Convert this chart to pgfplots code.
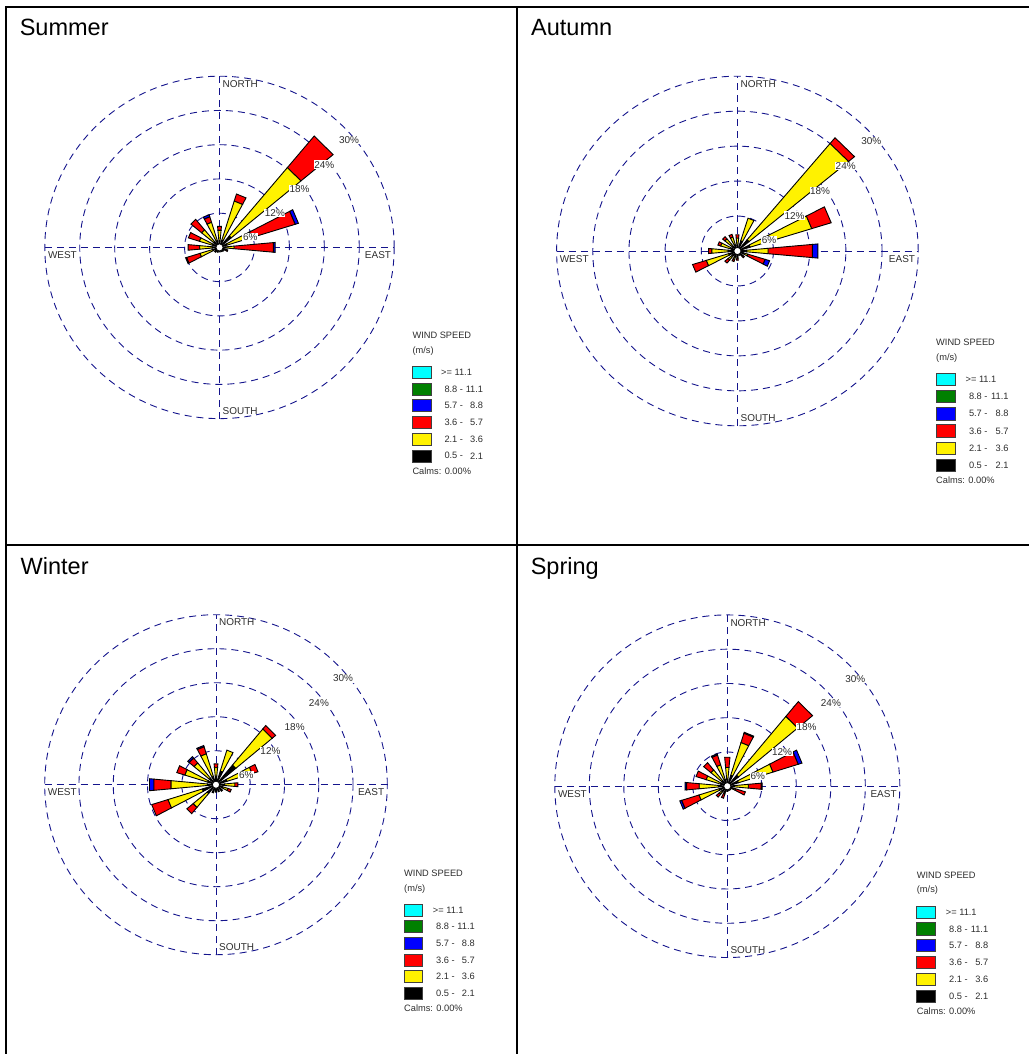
\documentclass[border=0pt]{standalone}
\usepackage{pgfplots}
\pgfplotsset{compat=1.18}
\usepackage{pgfplotstable}
\usepackage{fontspec}
\setmainfont{Liberation Sans}

\definecolor{ringblue}{RGB}{20,20,140}
\definecolor{labgray}{RGB}{45,45,45}
\definecolor{spdcyan}{RGB}{0,255,255}
\definecolor{spdgreen}{RGB}{0,128,0}

% cumulative upper ends (%) of the speed classes for each direction
% k: 0.5-2.1 (black), y: 2.1-3.6 (yellow), r: 3.6-5.7 (red), b: 5.7-8.8 (blue)
\pgfplotstableread{
dir   k    y     r     b
0     1.0  3.0   3.7   3.7
22.5  1.3  8.5   9.8   9.8
45    2.6  18.2  25.4  25.4
67.5  1.3  5.8   13.6  14.2
90    1.1  2.5   9.3   9.6
112.5 0.9  1.1   1.5   1.5
135   0.9  0.9   0.9   0.9
157.5 0.8  0.8   0.8   0.8
180   0.8  0.8   0.8   0.8
202.5 0.9  0.9   0.9   0.9
225   0.9  1.1   1.1   1.1
247.5 1.2  3.5   5.9   6.1
270   1.2  3.4   5.4   5.4
292.5 1.2  3.6   5.6   5.6
315   1.2  4.0   6.4   6.4
337.5 1.2  4.6   5.6   6.0
}\summer

\pgfplotstableread{
dir   k    y     r     b
0     1.0  2.2   2.8   2.8
22.5  1.8  5.9   5.9   5.9
45    2.5  24.0  25.3  25.3
67.5  2.2  12.9  16.3  16.3
90    1.5  5.1   12.5  13.4
112.5 1.0  1.8   4.8   5.6
135   0.9  1.2   1.5   1.5
157.5 0.8  0.8   0.8   0.8
180   0.9  1.2   1.6   1.6
202.5 0.9  1.5   1.9   1.9
225   1.0  2.0   2.7   2.7
247.5 1.5  5.4   7.8   7.8
270   1.5  4.25  4.8   4.8
292.5 1.0  2.9   3.4   3.4
315   1.0  2.7   3.2   3.2
337.5 1.0  2.5   3.0   3.0
}\autumn

\pgfplotstableread{
dir   k    y     r     b
0     1.5  3.0   3.7   3.7
22.5  2.5  6.4   6.4   6.4
45    4.5  12.8  13.6  13.6
67.5  2.0  6.6   7.7   7.7
90    1.5  3.3   3.85  3.85
112.5 1.2  2.2   2.8   2.8
135   1.5  1.5   1.5   1.5
157.5 1.3  1.3   1.3   1.3
180   1.3  1.3   1.3   1.3
202.5 1.5  1.5   1.5   1.5
225   2.0  5.2   6.65  6.65
247.5 2.5  8.8   11.8  11.8
270   1.5  7.9   10.9  11.7
292.5 1.5  5.7   7.2   7.2
315   1.5  5.0   6.1   6.45
337.5 1.5  5.7   7.0   7.25
}\winter

\pgfplotstableread{
dir   k    y     r     b
0     1.2  3.3   5.1   5.1
22.5  2.0  8.0   9.7   9.9
45    2.5  15.9  19.3  19.3
67.5  2.0  8.3   12.9  13.6
90    1.0  3.65  5.9   6.1
112.5 1.0  1.5   3.3   3.3
135   0.8  0.8   0.8   0.8
157.5 0.8  0.8   0.8   0.8
180   0.9  0.9   0.9   0.9
202.5 1.0  1.4   2.2   2.2
225   1.2  1.8   2.5   2.5
247.5 1.5  5.15  8.3   8.66
270   1.5  4.9   7.1   7.36
292.5 1.2  3.84  5.7   5.7
315   1.2  3.7   5.36  5.36
337.5 1.2  3.9   5.7   5.94
}\spring

\def\hw{5.2}% half width of a petal, degrees

% one petal segment: direction, inner %, outer %, colour
\newcommand\petal[4]{%
  \pgfmathtruncatemacro\doit{(#3-#2)>0.01 ? 1 : 0}%
  \ifnum\doit=1
    \pgfmathsetmacro\xa{#2*sin(#1-\hw)}\pgfmathsetmacro\ya{#2*cos(#1-\hw)}%
    \pgfmathsetmacro\xb{#2*sin(#1+\hw)}\pgfmathsetmacro\yb{#2*cos(#1+\hw)}%
    \pgfmathsetmacro\xc{#3*sin(#1+\hw)}\pgfmathsetmacro\yc{#3*cos(#1+\hw)}%
    \pgfmathsetmacro\xd{#3*sin(#1-\hw)}\pgfmathsetmacro\yd{#3*cos(#1-\hw)}%
    \edef\tmp{\noexpand\addplot[fill=#4, draw=black, line width=0.9bp]
      coordinates {(\xa,\ya) (\xb,\yb) (\xc,\yc) (\xd,\yd)} -- cycle;}%
    \tmp
  \fi}

\newcommand\rose[1]{%
  \pgfplotstablegetrowsof{#1}%
  \pgfmathtruncatemacro\nlast{\pgfplotsretval-1}%
  \pgfplotsforeachungrouped \ii in {0,...,\nlast}{%
    \pgfplotstablegetelem{\ii}{dir}\of#1\let\petDir\pgfplotsretval
    \pgfplotstablegetelem{\ii}{k}\of#1\let\petK\pgfplotsretval
    \pgfplotstablegetelem{\ii}{y}\of#1\let\petY\pgfplotsretval
    \pgfplotstablegetelem{\ii}{r}\of#1\let\petR\pgfplotsretval
    \pgfplotstablegetelem{\ii}{b}\of#1\let\petB\pgfplotsretval
    \petal{\petDir}{\petR}{\petB}{blue}%
    \petal{\petDir}{\petY}{\petR}{red}%
    \petal{\petDir}{\petK}{\petY}{yellow}%
    \petal{\petDir}{0}{\petK}{black}%
  }}

\tikzset{
  ringline/.style={ringblue, line width=0.9bp, dash pattern=on 7bp off 5bp},
  cmp/.style={font=\fontsize{10}{12}\selectfont, text=labgray, inner sep=0pt},
  pct/.style={font=\fontsize{10}{12}\selectfont, text=labgray, fill=white, inner sep=0.6bp},
  lg/.style={font=\fontsize{9.3}{10}\selectfont, text=labgray, inner sep=0pt},
  ttl/.style={font=\fontsize{23.6}{26}\selectfont, inner sep=0pt, anchor=base west},
}

\newcommand\rosegrid{%
  \pgfplotsinvokeforeach{6,12,18,24,30}{%
    \draw[ringline] (axis cs:0,0) ellipse [x radius=##1, y radius=##1];}
  \draw[ringline] (axis cs:-30,0) -- (axis cs:30,0);
  \draw[ringline] (axis cs:0,-30) -- (axis cs:0,30);
  \node[cmp, anchor=north west, xshift=3bp, yshift=-4bp] at (axis cs:0,30) {NORTH};
  \node[cmp, anchor=south west, xshift=3bp, yshift=4bp] at (axis cs:0,-30) {SOUTH};
  \node[cmp, anchor=north west, xshift=3bp, yshift=-4bp] at (axis cs:-30,0) {WEST};
  \node[cmp, anchor=north east, xshift=-3bp, yshift=-4bp] at (axis cs:30,0) {EAST};
}

\newcommand\roselabels{%
  \pgfplotsinvokeforeach{6,12,18,24,30}{%
    \node[pct, xshift=6bp, yshift=-14bp] at (axis cs:{##1*0.7071},{##1*0.7071}) {##1\%};}
  \draw[fill=white, line width=0.8bp] (axis cs:0,0) circle[radius=3.6bp];
}

% legend: x, y of the left/centre of "WIND SPEED", scale
\newcommand\windlegend[3]{%
  \begin{scope}[shift={(#1,#2)}, scale=#3]
    \node[lg, anchor=west] at (0,0) {WIND SPEED};
    \node[lg, anchor=west] at (0,-15.3) {(m/s)};
    \foreach \cc/\lo/\hi [count=\n from 0] in
      {spdcyan/{}/{}, spdgreen/8.8/11.1, blue/5.7/8.8, red/3.6/5.7, yellow/2.1/3.6, black/0.5/2.1}{
      \pgfmathsetmacro\yy{-36.6-16.7*\n}
      \draw[draw=black!75, line width=0.6bp, fill=\cc] (0,\yy-6) rectangle (18.7,\yy+6);
      \ifnum\n=0
        \node[lg, anchor=west] at (28.7,\yy) {>= 11.1};
      \else
        \node[lg, anchor=west] at (32,\yy) {\lo\ -};
        \node[lg, anchor=east] at (71,\yy) {\hi};
      \fi
    }
    \node[lg, anchor=west] at (0,-135) {Calms: 0.00\%};
  \end{scope}}

\pgfplotsset{rosestyle/.style={anchor=center, scale only axis,
  xmin=-30, xmax=30, ymin=-30, ymax=30, hide axis, clip=false}}

\begin{document}
\begin{tikzpicture}[x=1bp, y=1bp]
\useasboundingbox (0,0) rectangle (1029,-1054);
\draw[line width=2bp] (6,-1060) -- (6,-6.5) -- (1035,-6.5);
\draw[line width=2bp] (516.7,-6.5) -- (516.7,-1060);
\draw[line width=2bp] (6,-545) -- (1035,-545);

\node[ttl] at (19.6,-35.5) {Summer};
\node[ttl] at (531,-35.1) {Autumn};
\node[ttl] at (20.5,-574.3) {Winter};
\node[ttl] at (530.6,-574.3) {Spring};

\begin{axis}[rosestyle, at={(219.5bp,-247.4bp)}, width=349.4bp, height=342.4bp]
\rosegrid
\rose{\summer}
\roselabels
\end{axis}

\begin{axis}[rosestyle, at={(737.4bp,-251bp)}, width=361.6bp, height=349.6bp]
\rosegrid
\rose{\autumn}
\roselabels
\end{axis}

\begin{axis}[rosestyle, at={(216bp,-784.7bp)}, width=342.6bp, height=340bp]
\rosegrid
\rose{\winter}
\roselabels
\end{axis}

\begin{axis}[rosestyle, at={(727.3bp,-786.2bp)}, width=345bp, height=342.6bp]
\rosegrid
\rose{\spring}
\roselabels
\end{axis}

\windlegend{412.3}{-335.7}{1.0}
\windlegend{936}{-342}{1.025}
\windlegend{404}{-873.3}{1.0}
\windlegend{916.7}{-875}{1.01}
\end{tikzpicture}
\end{document}
